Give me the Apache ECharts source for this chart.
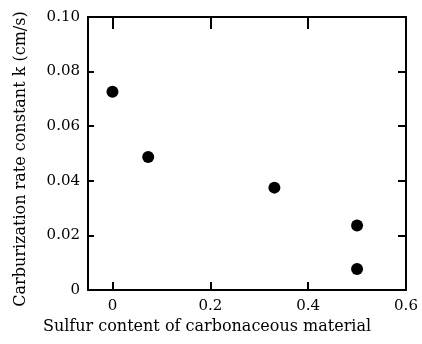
<!DOCTYPE html>
<html><head><meta charset="utf-8">
<script src="https://cdn.jsdelivr.net/npm/echarts@6/dist/echarts.min.js"></script>
<style>html,body{margin:0;padding:0;background:#fff}#c{width:422px;height:344px}</style>
</head><body><div id="c"></div>
<script>
var sulfur = [0, 0.073, 0.331, 0.5, 0.5];
var rateK = [0.0726, 0.0487, 0.0375, 0.0236, 0.0077];
var xTicks = [0, 0.2, 0.4, 0.6];
var yTicks = [0, 0.02, 0.04, 0.06, 0.08, 0.10];
var xTitle = 'Sulfur content of carbonaceous material';
var yTitle = 'Carburization rate constant k (cm/s)';

var font = 'DejaVu Serif';
var pts = sulfur.map(function(x, i){ return [x, rateK[i]]; });
var chart = echarts.init(document.getElementById('c'));
var lineStyle = {color:'#000', width:2};
chart.setOption({
  animation:false,
  grid:{left:88, right:16, top:17, bottom:54},
  graphic:[{
    type:'text', x:207, y:327,
    style:{text:xTitle, fill:'#000', font:'16px "DejaVu Serif"', align:'center', verticalAlign:'middle'}
  },{
    type:'text', x:21, y:159, rotation:Math.PI/2,
    style:{text:yTitle, fill:'#000', font:'16px "DejaVu Serif"', align:'center', verticalAlign:'middle'}
  }],
  xAxis:[{
    type:'value', min:-0.05, max:0.6, position:'bottom',
    axisLine:{show:true, onZero:false, lineStyle:lineStyle},
    axisTick:{show:true, inside:true, length:8, lineStyle:lineStyle, customValues:[0,0.2,0.4]},
    axisLabel:{customValues:xTicks, color:'#000', fontFamily:font, fontSize:15, margin:9,
      formatter:function(v){return v===0?'0':String(Math.round(v*10)/10);}},
    splitLine:{show:false}
  },{
    type:'value', min:-0.05, max:0.6, position:'top',
    axisLine:{show:true, onZero:false, lineStyle:lineStyle},
    axisTick:{show:true, inside:true, length:12, lineStyle:lineStyle, customValues:[0,0.2,0.4]},
    axisLabel:{show:false}, splitLine:{show:false}
  }],
  yAxis:[{
    type:'value', min:0, max:0.1, interval:0.02, position:'left',
    axisLine:{show:true, onZero:false, lineStyle:lineStyle},
    axisTick:{show:true, inside:true, length:6, lineStyle:lineStyle},
    axisLabel:{customValues:yTicks, color:'#000', fontFamily:font, fontSize:15, margin:8,
      formatter:function(v){return v===0?'0':v.toFixed(2);}},
    splitLine:{show:false}
  },{
    type:'value', min:0, max:0.1, interval:0.02, position:'right',
    axisLine:{show:true, onZero:false, lineStyle:lineStyle},
    axisTick:{show:true, inside:true, length:8, lineStyle:lineStyle},
    axisLabel:{show:false}, splitLine:{show:false}
  }],
  series:[{
    type:'scatter', data:pts, symbolSize:12,
    itemStyle:{color:'#000', opacity:1}
  }]
});
</script></body></html>
